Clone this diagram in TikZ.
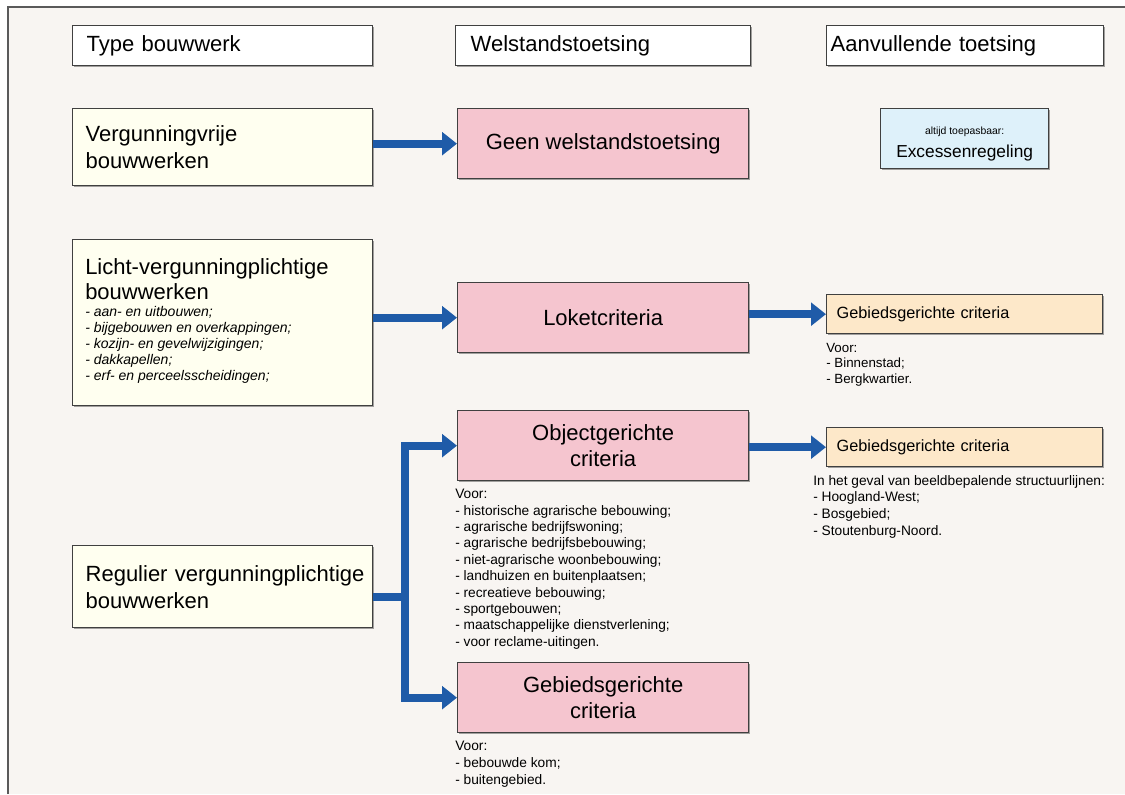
\documentclass[tikz,border=0pt]{standalone}
\usepackage{fontspec}
\setmainfont{Liberation Sans}
\usetikzlibrary{arrows.meta,shadows}
\definecolor{panelbg}{HTML}{F8F5F2}
\definecolor{panelline}{HTML}{5A5A5A}
\definecolor{boxline}{HTML}{404040}
\definecolor{yellowbox}{HTML}{FFFFF0}
\definecolor{pinkbox}{HTML}{F5C5CF}
\definecolor{bluebox}{HTML}{DEF1FA}
\definecolor{orangebox}{HTML}{FDE8C9}
\definecolor{arrowblue}{HTML}{1F5BA8}
\tikzset{
  base/.style={draw=boxline, line width=1pt, rectangle, anchor=north west, inner ysep=0pt,
    drop shadow={shadow xshift=1pt, shadow yshift=-1pt, opacity=0.35, fill=black}},
  hdrbox/.style={base, fill=white, minimum height=30pt, align=left, font=\fontsize{16.5}{19}\selectfont},
  yellowbx/.style={base, fill=yellowbox, minimum width=225pt, inner xsep=9.75pt, text width=205.5pt,
    align=left, font=\fontsize{16.5}{20.25}\selectfont},
  pinkbx/.style={base, fill=pinkbox, minimum width=218.25pt, minimum height=52.5pt, align=center,
    font=\fontsize{16.5}{19.5}\selectfont},
  orangebx/.style={base, fill=orangebox, minimum width=207pt, minimum height=29.25pt, inner xsep=7.5pt,
    text width=192pt, align=left, font=\fontsize{12.2}{14}\selectfont},
  note/.style={anchor=north west, inner sep=0pt, align=left},
  arr/.style={draw=arrowblue, line width=6pt, line join=miter, -{Triangle[length=11.25pt,width=17pt]}},
  flow/.style={draw=arrowblue, line width=6pt, line join=miter}
}
\begin{document}
\begin{tikzpicture}[x=0.75pt,y=-0.75pt]
\useasboundingbox (0,0) rectangle (1125,794);
\fill[white] (0,0) rectangle (1125,794);
\fill[panelbg] (8,7) rectangle (1125,794);
\draw[panelline, line width=1.1pt] (8,794) -- (8,7) -- (1125,7);

% headers
\node[hdrbox, inner xsep=10.5pt, text width=204pt] (h1) at (72,25) {Type bouwwerk};
\node[hdrbox, inner xsep=11.25pt, text width=198.75pt] (h2) at (455,25) {Welstandstoetsing};
\node[hdrbox, inner xsep=3pt, text width=201.75pt] (h3) at (826,25) {Aanvullende toetsing};

% row 1
\node[yellowbx, minimum height=57.75pt] (vv) at (72,108) {Vergunningvrije\\bouwwerken};
\node[pinkbx] (geen) at (457,108) {Geen welstandstoetsing};
\node[base, fill=bluebox, minimum width=126pt, minimum height=45pt, align=center] (exc) at (880,108)
  {{\rule{0pt}{13.5pt}\fontsize{7.8}{9}\selectfont altijd toepasbaar:}\\[5.5pt]{\fontsize{13}{15}\selectfont Excessenregeling}};

% row 2
\node[base, fill=yellowbox, minimum width=225pt, minimum height=124.5pt] (licht) at (72,239) {};
\node[note, font=\fontsize{16.5}{18.75}\selectfont] (lichttitle) at (85,258)
  {Licht-vergunningplichtige\\bouwwerken};
\node[note, font=\fontsize{10.5}{12}\selectfont\itshape] (lichtlist) at (85,306)
  {- aan- en uitbouwen;\\- bijgebouwen en overkappingen;\\- kozijn- en gevelwijzigingen;\\- dakkapellen;\\- erf- en perceelsscheidingen;};
\node[pinkbx] (lok) at (457,282) {Loketcriteria};
\node[orangebx] (geb1) at (826,294) {Gebiedsgerichte criteria};
\node[note, font=\fontsize{10}{11.6}\selectfont] (geb1note) at (826,343)
  {Voor:\\- Binnenstad;\\- Bergkwartier.};

% row 3
\node[pinkbx] (obj) at (457,410) {Objectgerichte\\criteria};
\node[orangebx] (geb2) at (826,427) {Gebiedsgerichte criteria};
\node[note, font=\fontsize{10.3}{12.5}\selectfont] (geb2note) at (813,475)
  {In het geval van beeldbepalende structuurlijnen:\\- Hoogland-West;\\- Bosgebied;\\- Stoutenburg-Noord.};
\node[note, font=\fontsize{10.3}{12.3}\selectfont] (objnote) at (455,489)
  {Voor:\\- historische agrarische bebouwing;\\- agrarische bedrijfswoning;\\- agrarische bedrijfsbebouwing;\\- niet-agrarische woonbebouwing;\\- landhuizen en buitenplaatsen;\\- recreatieve bebouwing;\\- sportgebouwen;\\- maatschappelijke dienstverlening;\\- voor reclame-uitingen.};

\node[yellowbx, minimum height=61.5pt] (reg) at (72,545) {\mbox{Regulier vergunningplichtige}\\bouwwerken};
\node[pinkbx] (gebc) at (457,662) {Gebiedsgerichte\\criteria};
\node[note, font=\fontsize{10.3}{12.75}\selectfont] (gebcnote) at (455,741)
  {Voor:\\- bebouwde kom;\\- buitengebied.};

% connectors
\draw[arr] (vv.east |- geen.west) -- (geen.west);
\draw[arr] (licht.east |- lok.west) -- (lok.west);
\draw[arr] (lok.east |- geb1.west) -- (geb1.west);
\draw[arr] (obj.east |- geb2.west) -- (geb2.west);
\coordinate (split) at (405,597);
\draw[flow] (reg.east |- split) -- (split);
\draw[arr] (split) |- (obj.west);
\draw[arr] (split) |- (gebc.west);
\end{tikzpicture}
\end{document}
